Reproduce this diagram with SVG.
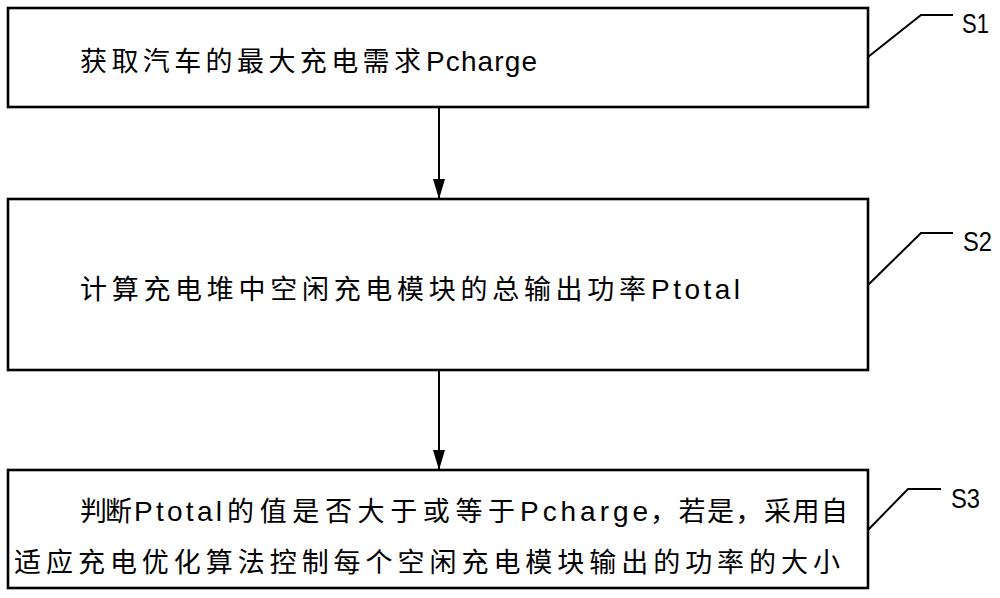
<svg xmlns="http://www.w3.org/2000/svg" width="1000" height="598" viewBox="0 0 1000 598">
<style>
.box{fill:#fff;stroke:#000;stroke-width:2.6}
.lead{fill:none;stroke:#000;stroke-width:2}
.conn{stroke:#000;stroke-width:2}
.cjk{font-family:"Noto Sans CJK SC","Liberation Sans",sans-serif;font-size:27px;fill:#000}
.lat{font-family:"Liberation Sans","Noto Sans CJK SC",sans-serif;font-size:28px;fill:#000}
.lbl{font-family:"Liberation Sans",sans-serif;font-size:28px;fill:#000}
</style>
<defs>
<marker id="ah" viewBox="0 0 20 12" refX="20" refY="6" markerWidth="20" markerHeight="12" markerUnits="userSpaceOnUse" orient="auto">
<path d="M0,0 L20,6 L0,12 Z" fill="#000"/>
</marker>
</defs>
<rect width="1000" height="598" fill="#fff"/>
<g id="S1">
<rect class="box" x="8" y="8" width="860" height="99"/>
<text y="71"><tspan class="cjk" x="80" textLength="341" lengthAdjust="spacing">获取汽车的最大充电需求</tspan><tspan class="lat" x="426" textLength="111" lengthAdjust="spacing">Pcharge</tspan></text>
<polyline class="lead" points="868,57 921,15 953,15"/>
<text class="lbl" x="962" y="33" textLength="27" lengthAdjust="spacingAndGlyphs">S1</text>
</g>
<g id="S2">
<rect class="box" x="8" y="199" width="860" height="171"/>
<text y="299"><tspan class="cjk" x="80" textLength="566" lengthAdjust="spacing">计算充电堆中空闲充电模块的总输出功率</tspan><tspan class="lat" x="651" textLength="89" lengthAdjust="spacing">Ptotal</tspan></text>
<polyline class="lead" points="868,285 921,233 953,233"/>
<text class="lbl" x="963" y="251" textLength="29" lengthAdjust="spacingAndGlyphs">S2</text>
</g>
<g id="S3">
<rect class="box" x="8" y="470" width="860" height="118"/>
<text y="521"><tspan class="cjk" x="80" textLength="52" lengthAdjust="spacing">判断</tspan><tspan class="lat" x="134" textLength="88" lengthAdjust="spacing">Ptotal</tspan><tspan class="cjk" x="227" textLength="288" lengthAdjust="spacing">的值是否大于或等于</tspan><tspan class="lat" x="520" textLength="128" lengthAdjust="spacing">Pcharge</tspan><tspan class="cjk" x="650" textLength="198" lengthAdjust="spacing">，若是，采用自</tspan></text>
<text class="cjk" x="14" y="572" textLength="826" lengthAdjust="spacing">适应充电优化算法控制每个空闲充电模块输出的功率的大小</text>
<polyline class="lead" points="868,530 908,489 941,489"/>
<text class="lbl" x="951" y="508" textLength="29" lengthAdjust="spacingAndGlyphs">S3</text>
</g>
<g id="connectors">
<line class="conn" x1="439" y1="107" x2="439" y2="199" marker-end="url(#ah)"/>
<line class="conn" x1="439" y1="370" x2="439" y2="470" marker-end="url(#ah)"/>
</g>
</svg>
